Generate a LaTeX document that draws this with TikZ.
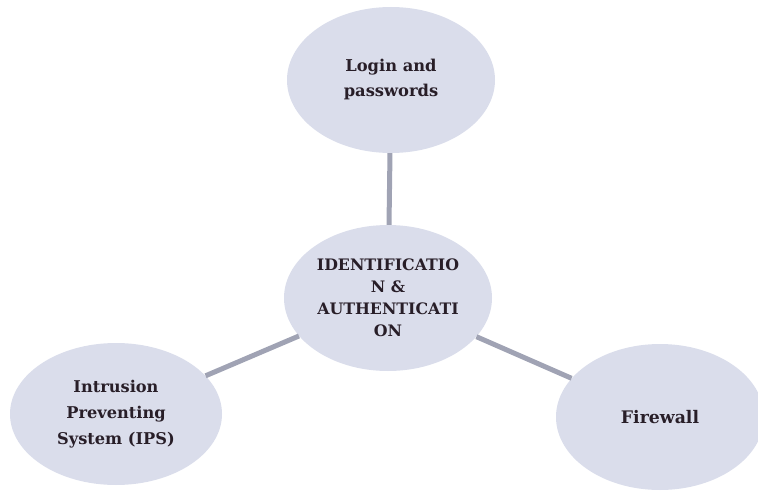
\documentclass[tikz,border=0pt]{standalone}
\usepackage{fontspec}
\setmainfont{DejaVu Serif}
\usepackage{tikz}
\usetikzlibrary{shapes.geometric}
\definecolor{bubblefill}{RGB}{218,221,235}
\definecolor{linkgray}{RGB}{160,163,180}
\definecolor{inkdark}{RGB}{40,30,40}

\begin{document}
\begin{tikzpicture}[x=1pt, y=-1pt, bubble/.style={ellipse, fill=bubblefill, inner sep=0pt, minimum width=208pt, minimum height=146pt, align=center, text=inkdark, font=\fontsize{16.3}{25}\selectfont\bfseries}, link/.style={draw=linkgray, line width=5pt}
]
  \useasboundingbox (0,0) rectangle (758,495);
  \node[bubble] (login) at (391,80) {Login and\\passwords};
  \node[bubble, font=\fontsize{15.8}{22}\selectfont\bfseries] (ident) at (388,298)
    {IDENTIFICATIO\\N \&\\AUTHENTICATI\\ON};
  \node[bubble, minimum width=212pt, minimum height=142pt, font=\fontsize{16.2}{26}\selectfont\bfseries] (ips) at (116,414)
    {Intrusion\\Preventing\\System (IPS)};
  \node[bubble, font=\fontsize{17.3}{25}\selectfont\bfseries] (fire) at (660,417) {Firewall};
  \draw[link] (login) -- (ident);
  \draw[link] (ips) -- (ident);
  \draw[link] (fire) -- (ident);
\end{tikzpicture}
\end{document}
